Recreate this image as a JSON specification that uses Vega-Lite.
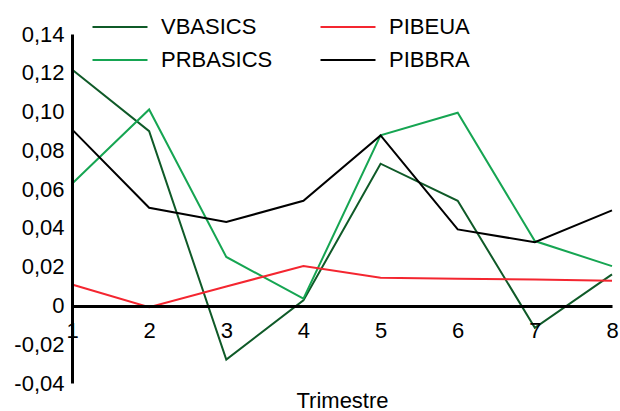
{
  "$schema": "https://vega.github.io/schema/vega-lite/v6.json",
  "autosize": "none",
  "width": 540,
  "height": 349,
  "padding": {"left": 72, "top": 34, "right": 8, "bottom": 28},
  "background": "white",
  "config": {
    "view": {"stroke": null},
    "font": "Liberation Sans",
    "axis": {"labelFont": "Liberation Sans", "titleFont": "Liberation Sans", "labelColor": "black", "titleColor": "black"},
    "legend": {"labelFont": "Liberation Sans"}
  },
  "data": {
    "values": [
      {"t": 1, "s": "VBASICS", "v": 0.1217},
      {"t": 2, "s": "VBASICS", "v": 0.0899},
      {"t": 3, "s": "VBASICS", "v": -0.0279},
      {"t": 4, "s": "VBASICS", "v": 0.0026},
      {"t": 5, "s": "VBASICS", "v": 0.0731},
      {"t": 6, "s": "VBASICS", "v": 0.054},
      {"t": 7, "s": "VBASICS", "v": -0.0115},
      {"t": 8, "s": "VBASICS", "v": 0.016},
      {"t": 1, "s": "PRBASICS", "v": 0.0628},
      {"t": 2, "s": "PRBASICS", "v": 0.1011},
      {"t": 3, "s": "PRBASICS", "v": 0.025},
      {"t": 4, "s": "PRBASICS", "v": 0.0035},
      {"t": 5, "s": "PRBASICS", "v": 0.0877},
      {"t": 6, "s": "PRBASICS", "v": 0.0994},
      {"t": 7, "s": "PRBASICS", "v": 0.0332},
      {"t": 8, "s": "PRBASICS", "v": 0.0203},
      {"t": 1, "s": "PIBEUA", "v": 0.0108},
      {"t": 2, "s": "PIBEUA", "v": -0.0009},
      {"t": 3, "s": "PIBEUA", "v": 0.0098},
      {"t": 4, "s": "PIBEUA", "v": 0.0203},
      {"t": 5, "s": "PIBEUA", "v": 0.0143},
      {"t": 6, "s": "PIBEUA", "v": 0.0138},
      {"t": 7, "s": "PIBEUA", "v": 0.0134},
      {"t": 8, "s": "PIBEUA", "v": 0.0127},
      {"t": 1, "s": "PIBBRA", "v": 0.0908},
      {"t": 2, "s": "PIBBRA", "v": 0.0504},
      {"t": 3, "s": "PIBBRA", "v": 0.043},
      {"t": 4, "s": "PIBBRA", "v": 0.054},
      {"t": 5, "s": "PIBBRA", "v": 0.0877},
      {"t": 6, "s": "PIBBRA", "v": 0.0392},
      {"t": 7, "s": "PIBBRA", "v": 0.0326},
      {"t": 8, "s": "PIBBRA", "v": 0.049}
    ]
  },
  "mark": {"type": "line", "strokeWidth": 2},
  "encoding": {
    "x": {
      "field": "t",
      "type": "quantitative",
      "scale": {"domain": [1, 8], "nice": false, "zero": false},
      "axis": {
        "title": "Trimestre",
        "titleFontSize": 22,
        "titleFontWeight": "normal",
        "titlePadding": 49,
        "values": [1, 2, 3, 4, 5, 6, 7, 8],
        "format": "d",
        "labelFontSize": 22,
        "labelFlush": false,
        "labelPadding": 14,
        "ticks": false,
        "grid": false,
        "domainColor": "black",
        "domainWidth": 3,
        "offset": -77,
        "zindex": 1
      }
    },
    "y": {
      "field": "v",
      "type": "quantitative",
      "scale": {"domain": [-0.04, 0.14], "nice": false},
      "axis": {
        "title": null,
        "values": [-0.04, -0.02, 0, 0.02, 0.04, 0.06, 0.08, 0.1, 0.12, 0.14],
        "labelExpr": "datum.value == 0 ? '0' : replace(replace(format(datum.value, '.2f'), '.', ','), '\u2212', '-')",
        "labelFontSize": 22,
        "labelPadding": 8,
        "ticks": false,
        "grid": false,
        "domainColor": "black",
        "domainWidth": 3,
        "zindex": 1
      }
    },
    "color": {
      "field": "s",
      "type": "nominal",
      "scale": {
        "domain": ["VBASICS", "PRBASICS", "PIBEUA", "PIBBRA"],
        "range": ["#0f5a28", "#16a552", "#f42630", "#000000"]
      },
      "legend": {
        "title": null,
        "orient": "none",
        "legendX": 33,
        "legendY": -22,
        "columns": 2,
        "padding": 0,
        "symbolType": "M-2,0H2",
        "symbolSize": 756,
        "symbolStrokeWidth": 2,
        "labelFontSize": 22,
        "labelOffset": 26,
        "columnPadding": 43,
        "rowPadding": 7
      }
    }
  }
}
